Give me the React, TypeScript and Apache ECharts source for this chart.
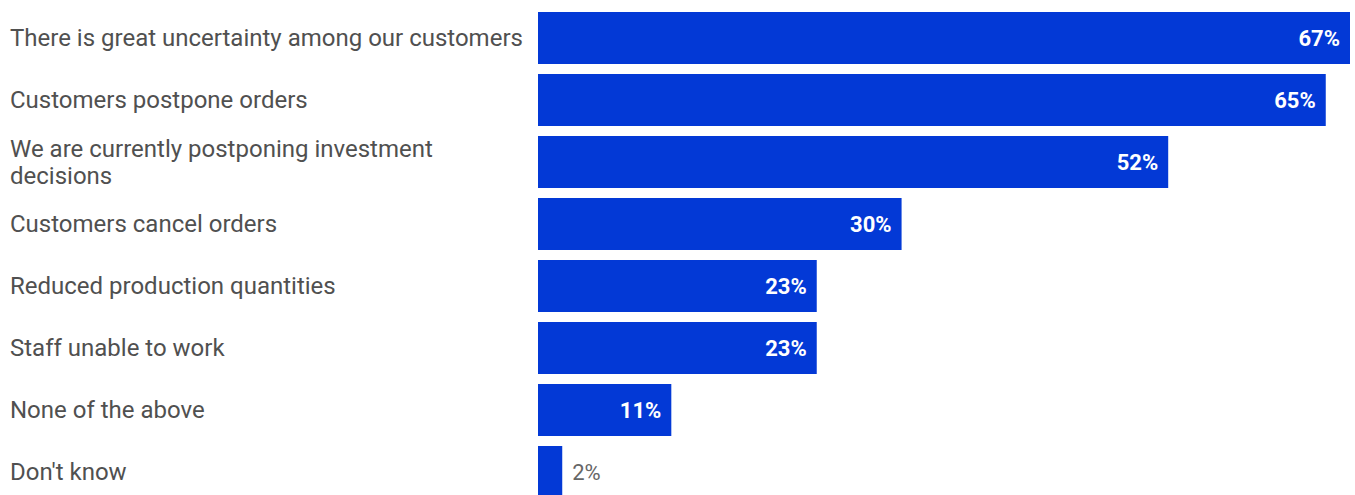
import React, { useEffect, useRef } from "react";
import * as echarts from "echarts";

const categories = [
  "There is great uncertainty among our customers",
  "Customers postpone orders",
  "We are currently postponing investment decisions",
  "Customers cancel orders",
  "Reduced production quantities",
  "Staff unable to work",
  "None of the above",
  "Don't know",
];
const values = [67, 65, 52, 30, 23, 23, 11, 2];

export default function App() {
  const ref = useRef<HTMLDivElement>(null);
  useEffect(() => {
    document.body.style.margin = "0";
    const chart = echarts.init(ref.current!, null, { renderer: "svg" });
    chart.setOption({
      animation: false,
      grid: { left: 538, right: 5, top: 7, height: 496, containLabel: false },
      xAxis: {
        type: "value",
        min: 0,
        max: 67,
        show: false,
      },
      yAxis: {
        type: "category",
        data: categories,
        inverse: true,
        axisLine: { show: false },
        axisTick: { show: false },
        axisLabel: {
          align: "left",
          margin: 528,
          color: "#505050",
          fontFamily: "Roboto",
          fontSize: 24,
          lineHeight: 27,
          formatter: (v: string) => v.replace(" decisions", "\ndecisions"),
        },
      },
      series: [
        {
          type: "bar",
          data: values.map((v) => ({
            value: v,
            label:
              v < 5
                ? { position: "right", color: "#666", fontWeight: "normal", distance: 10 }
                : undefined,
          })),
          barWidth: 52,
          itemStyle: { color: "#0339D6" },
          label: {
            show: true,
            position: "insideRight",
            distance: 10,
            formatter: "{c}%",
            color: "#fff",
            fontFamily: "Roboto",
            fontWeight: "bold",
            fontSize: 22,
          },
        },
      ],
    });
    return () => chart.dispose();
  }, []);
  return <div ref={ref} style={{ width: 1355, height: 510 }} />;
}
